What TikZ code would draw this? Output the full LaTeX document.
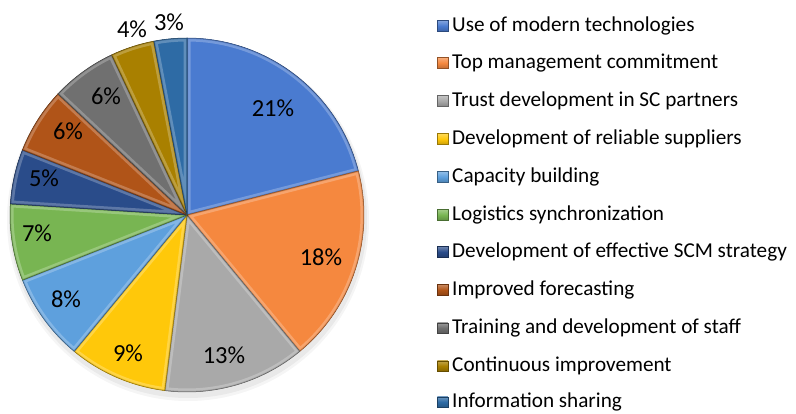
\documentclass[tikz,border=0pt]{standalone}
\usepackage{fontspec}
\setmainfont{Carlito}
\usetikzlibrary{calc}
\definecolor{c1}{HTML}{4A7BD0}
\definecolor{c2}{HTML}{F5883F}
\definecolor{c3}{HTML}{A9A9A9}
\definecolor{c4}{HTML}{FFC80A}
\definecolor{c5}{HTML}{5EA0DD}
\definecolor{c6}{HTML}{78B552}
\definecolor{c7}{HTML}{2A4C8A}
\definecolor{c8}{HTML}{B05418}
\definecolor{c9}{HTML}{707070}
\definecolor{c10}{HTML}{A98000}
\definecolor{c11}{HTML}{2E6BA5}
\tikzset{
  pct/.style={font=\fontsize{24.5}{25}\selectfont, text=black, inner sep=0pt},
  legtext/.style={font=\fontsize{21.2}{22}\selectfont, anchor=west, inner sep=0pt},
  legbox/.style={minimum size=10.5pt, inner sep=0pt, draw=#1!60!black, line width=0.5pt,
    top color=#1!70!white, bottom color=#1!80!black, middle color=#1},
}
\newcommand{\pieslice}[3]{%
  \begin{scope}
    \clip (C) -- ([shift={(#1:177)}]C) arc[start angle=#1, end angle=#2, radius=177] -- cycle;
    \fill[#3] (C) -- ([shift={(#1:177)}]C) arc[start angle=#1, end angle=#2, radius=177] -- cycle;
    \draw[#3!60!white, line width=7pt, opacity=0.6] (C) -- ([shift={(#1:177)}]C) arc[start angle=#1, end angle=#2, radius=177] -- cycle;
    \draw[#3!80!black, line width=2pt, opacity=0.5] (C) -- ([shift={(#1:177)}]C) arc[start angle=#1, end angle=#2, radius=177] -- cycle;
  \end{scope}
  \draw[#3!55!black, line width=0.5pt] (C) -- ([shift={(#1:177)}]C) arc[start angle=#1, end angle=#2, radius=177] -- cycle;
}
\begin{document}
\begin{tikzpicture}[x=1pt,y=1pt]
\useasboundingbox (0,0) rectangle (796,413);
\coordinate (C) at (187,198);
% soft shadow
\fill[black, opacity=0.05] ($(C)+(1,-4)$) circle[radius=179];
\fill[black, opacity=0.04] ($(C)+(1,-5)$) circle[radius=181];
\pieslice{90}{14.4}{c1}
\pieslice{14.4}{-50.4}{c2}
\pieslice{-50.4}{-97.2}{c3}
\pieslice{-97.2}{-129.6}{c4}
\pieslice{-129.6}{-158.4}{c5}
\pieslice{-158.4}{-183.6}{c6}
\pieslice{-183.6}{-201.6}{c7}
\pieslice{-201.6}{-223.2}{c8}
\pieslice{-223.2}{-244.8}{c9}
\pieslice{-244.8}{-259.2}{c10}
\pieslice{-259.2}{-270}{c11}
% percentage labels
\node[pct] (p1) at (273,305) {21\%};
\node[pct] (p2) at (321,156) {18\%};
\node[pct] (p3) at (224,58) {13\%};
\node[pct] (p4) at (128,60) {9\%};
\node[pct] (p5) at (66,114) {8\%};
\node[pct] (p6) at (37,180) {7\%};
\node[pct] (p7) at (44,235) {5\%};
\node[pct] (p8) at (68,282) {6\%};
\node[pct] (p9) at (106,317) {6\%};
\node[pct] (p10) at (132,384) {4\%};
\node[pct] (p11) at (169,391) {3\%};
% legend
\foreach \i/\py/\txt in {1/26/Use of modern technologies,
  2/63/Top management commitment,
  3/101/Trust development in SC partners,
  4/139/Development of reliable suppliers,
  5/177/Capacity building,
  6/215/Logistics synchronization,
  7/252/Development of effective SCM strategy,
  8/290/Improved forecasting,
  9/328/Training and development of staff,
  10/366/Continuous improvement,
  11/402/Information sharing}{
  \node[legbox=c\i] (b\i) at (442.5,413-\py) {};
  \node[legtext] (t\i) at (452,413-\py) {\txt};
}
\end{tikzpicture}
\end{document}
